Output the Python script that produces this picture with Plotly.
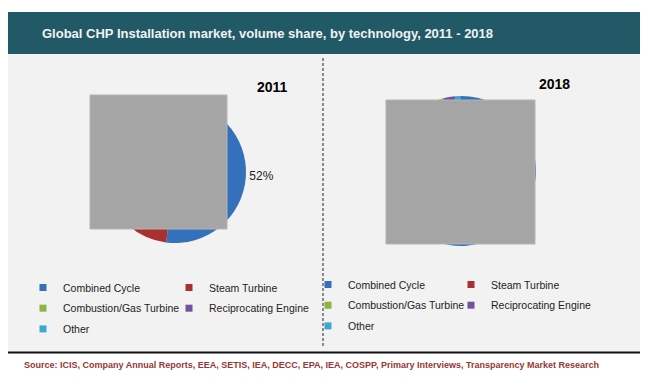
import plotly.graph_objects as go

W, H = 650, 385
OFF = 8  # page body margin offset

categories = ["Combined Cycle", "Steam Turbine", "Combustion/Gas Turbine",
              "Reciprocating Engine", "Other"]
values_2011 = [52, 19, 16, 10, 3]
values_2018 = [60, 20, 16.2, 2.5, 1.3]
years = ["2011", "2018"]
colors = ["#3470BC", "#A8302E", "#8DB340", "#7451A0", "#3BA8D2"]

FONT = "Liberation Sans, Arial, sans-serif"


def px_x(x):
    return (x - OFF) / W


def px_y(y):
    return 1 - (y - OFF) / H


fig = go.Figure()

# Pies
labels_2011 = [f"{v}%" if i == 0 else "" for i, v in enumerate(values_2011)]
fig.add_trace(go.Pie(
    labels=categories, values=values_2011, sort=False, direction="clockwise",
    rotation=0, marker=dict(colors=colors, line=dict(width=0)),
    text=labels_2011, textinfo="text", textposition="outside",
    textfont=dict(family=FONT, size=12, color="#222222"),
    domain=dict(x=[px_x(104), px_x(246)], y=[px_y(243), px_y(101)]),
    showlegend=False, hoverinfo="label+percent",
))
fig.add_trace(go.Pie(
    labels=categories, values=values_2018, sort=False, direction="clockwise",
    rotation=0, marker=dict(colors=colors, line=dict(width=0)),
    textinfo="none",
    domain=dict(x=[px_x(386), px_x(536)], y=[px_y(246), px_y(96)]),
    showlegend=False, hoverinfo="label+percent",
))

# Legend entries (two columns per pie, built from the categories)
col_of = [0, 1, 0, 1, 0]
for p in range(2):
    for i, (cat, col) in enumerate(zip(categories, colors)):
        leg = ["legend", "legend2", "legend3", "legend4"][p * 2 + col_of[i]]
        fig.add_trace(go.Scatter(
            x=[None], y=[None], mode="markers", name=cat,
            marker=dict(symbol="square", size=7, color=col),
            legend=leg, legendgroup=f"{p}-{i}", showlegend=True,
            hoverinfo="skip",
        ))

leg_common = dict(orientation="v", bgcolor="rgba(0,0,0,0)", borderwidth=0,
                  font=dict(family=FONT, size=10.5, color="#222222"),
                  tracegroupgap=1.7, itemclick=False, itemdoubleclick=False,
                  xanchor="left", yanchor="top", itemwidth=30)

shapes = [
    # grey panel
    dict(type="rect", xref="paper", yref="paper", x0=px_x(8), x1=px_x(640),
         y0=px_y(352), y1=px_y(54), fillcolor="#F2F2F2", line=dict(width=0),
         layer="below"),
    # title bar
    dict(type="rect", xref="paper", yref="paper", x0=px_x(8), x1=px_x(640),
         y0=px_y(54), y1=px_y(12), fillcolor="#215967", line=dict(width=0),
         layer="below"),
    # bottom rule
    dict(type="line", xref="paper", yref="paper", x0=px_x(8), x1=px_x(640),
         y0=px_y(352.5), y1=px_y(352.5), line=dict(color="#111111", width=2)),
    # dashed divider
    dict(type="line", xref="paper", yref="paper", x0=px_x(323), x1=px_x(323),
         y0=px_y(58), y1=px_y(346), line=dict(color="#222222", width=1, dash="3px,2px")),
    # grey cover boxes
    dict(type="rect", xref="paper", yref="paper", x0=px_x(90), x1=px_x(227),
         y0=px_y(229), y1=px_y(95), fillcolor="#A5A5A5",
         line=dict(color="#B5B5B5", width=1), layer="above"),
    dict(type="rect", xref="paper", yref="paper", x0=px_x(386), x1=px_x(535),
         y0=px_y(244), y1=px_y(100), fillcolor="#A5A5A5",
         line=dict(color="#B5B5B5", width=1), layer="above"),
]

annotations = [
    dict(text="Global CHP Installation market, volume share, by technology, 2011 - 2018",
         x=px_x(40), y=px_y(33), xref="paper", yref="paper", xanchor="left",
         yanchor="middle", showarrow=False,
         font=dict(family=FONT, size=13, color="#F2F2F2", weight="bold")),
    dict(text=years[0], x=px_x(272), y=px_y(87), xref="paper", yref="paper",
         xanchor="center", yanchor="middle", showarrow=False,
         font=dict(family=FONT, size=14, color="#000000", weight="bold")),
    dict(text=years[1], x=px_x(554), y=px_y(84), xref="paper", yref="paper",
         xanchor="center", yanchor="middle", showarrow=False,
         font=dict(family=FONT, size=14, color="#000000", weight="bold")),
    dict(text="Source: ICIS, Company Annual Reports, EEA, SETIS, IEA, DECC, EPA, IEA, COSPP, Primary Interviews, Transparency Market Research",
         x=px_x(22), y=px_y(365), xref="paper", yref="paper", xanchor="left",
         yanchor="middle", showarrow=False,
         font=dict(family=FONT, size=9.0, color="#953735", weight="bold")),
]

fig.update_layout(
    width=W, height=H, margin=dict(l=0, r=0, t=0, b=0),
    paper_bgcolor="#FFFFFF", plot_bgcolor="rgba(0,0,0,0)",
    xaxis=dict(visible=False, range=[0, 1]), yaxis=dict(visible=False, range=[0, 1]),
    shapes=shapes, annotations=annotations,
    legend=dict(x=px_x(23), y=px_y(273), **leg_common),
    legend2=dict(x=px_x(169), y=px_y(273), **leg_common),
    legend3=dict(x=px_x(308), y=px_y(270), **leg_common),
    legend4=dict(x=px_x(451), y=px_y(270), **leg_common),
    showlegend=True,
)

fig.write_html("out.html")
